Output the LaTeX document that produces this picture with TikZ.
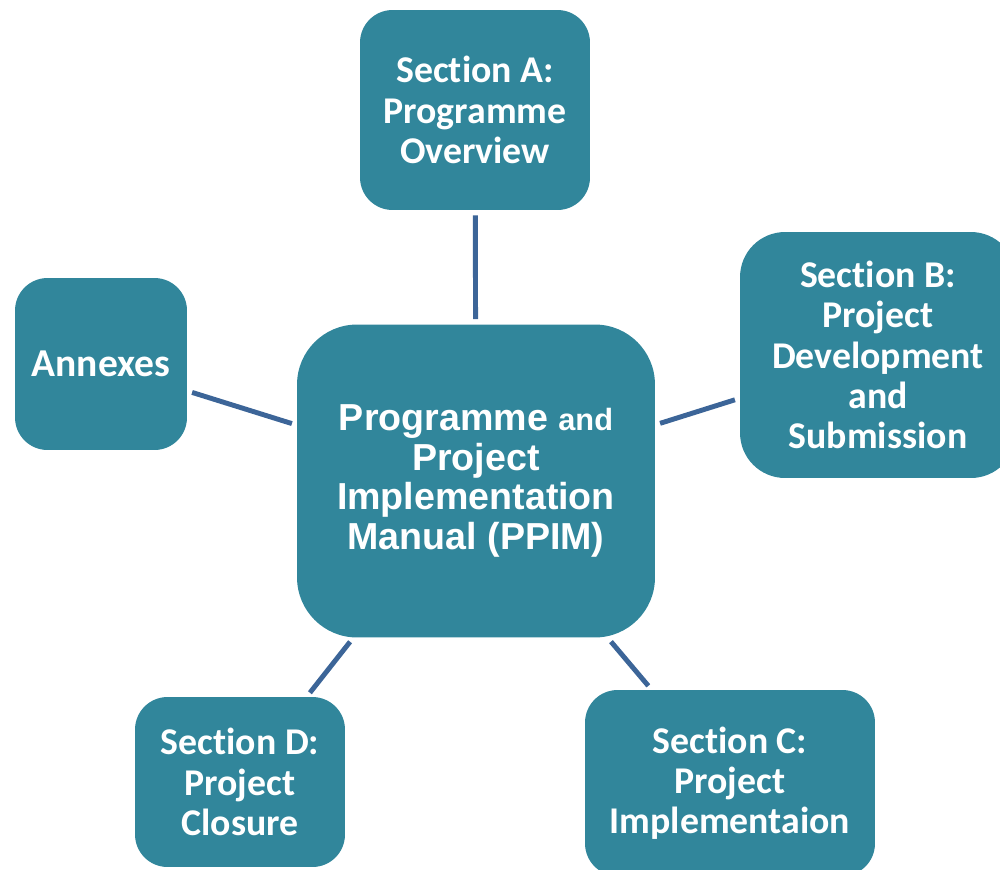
\documentclass[tikz,border=0pt]{standalone}
\usepackage{fontspec}
\setmainfont{Carlito}[Ligatures=NoCommon]
\newfontfamily\arialfont{Liberation Sans}
\usetikzlibrary{positioning}
\definecolor{boxteal}{RGB}{49,134,155}
\definecolor{linkblue}{RGB}{60,101,152}
\tikzset{
  secbox/.style={fill=boxteal, rounded corners=0.65cm, text=white, align=center, inner sep=0pt,
    font=\bfseries\fontsize{21.5}{22.9}\selectfont},
  hubbox/.style={fill=boxteal, rounded corners=1.2cm, text=white, align=center, inner sep=0pt,
    font=\arialfont\bfseries\fontsize{21.4}{22.7}\selectfont},
  link/.style={draw=linkblue, line width=2.8pt, shorten <=0.1cm, shorten >=0.1cm}
}
\begin{document}
\begin{tikzpicture}[x=0.02cm, y=-0.02cm]
			\useasboundingbox (0,0) rectangle (1000,869);
			\node (ppim) [hubbox, minimum width=7.16cm, minimum height=6.26cm] at (476,481) {Programme {\fontsize{17.5}{22.7}\selectfont and}\\Project\\Implementation\\Manual (PPIM)};
			\node (secA) [secbox, minimum width=4.6cm, minimum height=4cm] at (475,110) {Section A:\\Programme\\Overview};
			\node (secB) [secbox, minimum width=5.52cm, minimum height=4.92cm, rounded corners=0.9cm] at (878,355) {Section B:\\Project\\Development\\and\\Submission};
			\node (secC) [secbox, minimum width=5.8cm, minimum height=3.72cm] at (730,783) {Section C:\\Project\\Implementaion};
			\node (secD) [secbox, minimum width=4.2cm, minimum height=3.4cm] at (240,782) {Section D:\\Project\\Closure};
			\node (annex) [secbox, minimum width=3.44cm, minimum height=3.44cm, font=\bfseries\fontsize{22.5}{24}\selectfont] at (101,364) {Annexes};
			
			\draw [link] (secA) -- (ppim);
			\draw [link] (annex) -- (ppim);
			\draw [link] (ppim) -- (secB);
			\draw [link] (ppim) -- (secD);
			\draw [link] (ppim) -- (secC);
		\end{tikzpicture}
\end{document}
